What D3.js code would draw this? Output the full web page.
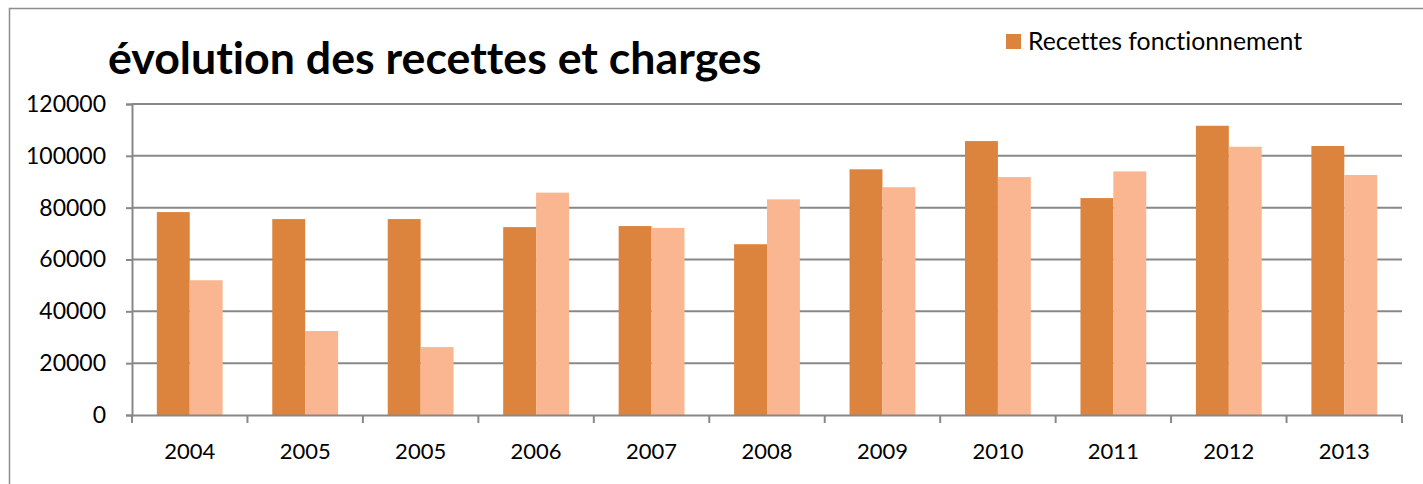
<!DOCTYPE html>
<html lang="fr">
<head>
    <meta charset="UTF-8">
    <title>évolution des recettes et charges</title>
    <script src="https://d3js.org/d3.v7.min.js"></script>
    <style>
        body, html {
            margin: 0;
            background: #fff;
            font-family: Lato, "Open Sans", sans-serif;
        }
        text {
            font-variant-ligatures: none;
        }
    </style>
</head>
<body>
<svg width="1423" height="484"></svg>
<script>
    // données
    const years = ["2004", "2005", "2005", "2006", "2007", "2008", "2009", "2010", "2011", "2012", "2013"];
    const recettes = [78300, 75600, 75600, 72500, 72900, 65900, 94800, 105700, 83700, 111600, 103800];
    const charges = [52000, 32400, 26200, 85800, 72200, 83200, 87900, 91800, 94000, 103500, 92600];
    const yTicks = [0, 20000, 40000, 60000, 80000, 100000, 120000];
    const seriesNames = ["Recettes fonctionnement", "Charges fonctionnement"];
    const colors = ["#dc843e", "#f9b690"];

    const svg = d3.select("svg");
    const plotLeft = 132, plotRight = 1402, plotTop = 104, plotBottom = 415;

    // cadre du graphique
    svg.append("rect")
        .attr("x", 9.5).attr("y", 8.5)
        .attr("width", 1430).attr("height", 500)
        .attr("fill", "none").attr("stroke", "#8c8c8c").attr("stroke-width", 1.5);

    const x = d3.scaleBand().domain(d3.range(years.length)).range([plotLeft, plotRight]);
    const y = d3.scaleLinear().domain([0, 120000]).range([plotBottom, plotTop]);

    // grille
    svg.append("g")
        .selectAll("line")
        .data(yTicks.filter(d => d > 0))
        .enter().append("line")
        .attr("x1", plotLeft).attr("x2", plotRight)
        .attr("y1", d => y(d)).attr("y2", d => y(d))
        .attr("stroke", "#888").attr("stroke-width", 2);

    // barres
    const inner = 0.285;
    const bw = x.bandwidth() * inner;
    const offset = (x.bandwidth() - 2 * bw) / 2;
    [recettes, charges].forEach(function(vals, s) {
        svg.append("g")
            .selectAll("rect")
            .data(vals)
            .enter().append("rect")
            .attr("x", (d, i) => x(i) + offset + s * bw)
            .attr("y", d => y(d))
            .attr("width", bw)
            .attr("height", d => plotBottom - y(d))
            .attr("fill", colors[s]);
    });

    // axe Y
    const yAxis = svg.append("g")
        .attr("transform", `translate(${plotLeft},0)`)
        .call(d3.axisLeft(y).tickValues(yTicks).tickSize(6).tickPadding(20).tickFormat(d3.format("d")));
    yAxis.select(".domain").attr("stroke", "#888").attr("stroke-width", 2);
    yAxis.selectAll(".tick line").attr("stroke", "#888").attr("stroke-width", 2);
    yAxis.selectAll("text")
        .attr("font-family", "Lato, sans-serif")
        .attr("font-size", 23).attr("fill", "#000");

    // axe X
    const xAxis = svg.append("g")
        .attr("transform", `translate(0,${plotBottom})`)
        .call(d3.axisBottom(x).tickSize(0).tickPadding(28).tickFormat(i => years[i]));
    xAxis.select(".domain").attr("stroke", "#888").attr("stroke-width", 2);
    xAxis.selectAll("text")
        .attr("font-family", "Lato, sans-serif")
        .attr("font-size", 22).attr("fill", "#000");
    // graduations aux limites des catégories
    svg.append("g")
        .selectAll("line")
        .data(d3.range(years.length + 1))
        .enter().append("line")
        .attr("x1", i => plotLeft + i * x.step()).attr("x2", i => plotLeft + i * x.step())
        .attr("y1", plotBottom).attr("y2", plotBottom + 8)
        .attr("stroke", "#888").attr("stroke-width", 2);

    // titre
    svg.append("text")
        .attr("x", 108).attr("y", 74)
        .attr("font-family", "Lato, sans-serif")
        .attr("font-weight", "bold")
        .attr("font-size", 44.7)
        .attr("fill", "#000")
        .text("évolution des recettes et charges");

    // légende
    svg.append("rect")
        .attr("x", 1006).attr("y", 34).attr("width", 15).attr("height", 15)
        .attr("fill", colors[0]);
    svg.append("text")
        .attr("x", 1028).attr("y", 50)
        .attr("font-family", "Lato, sans-serif")
        .attr("font-size", 24.8).attr("fill", "#000")
        .text(seriesNames[0]);
</script>
</body>
</html>
